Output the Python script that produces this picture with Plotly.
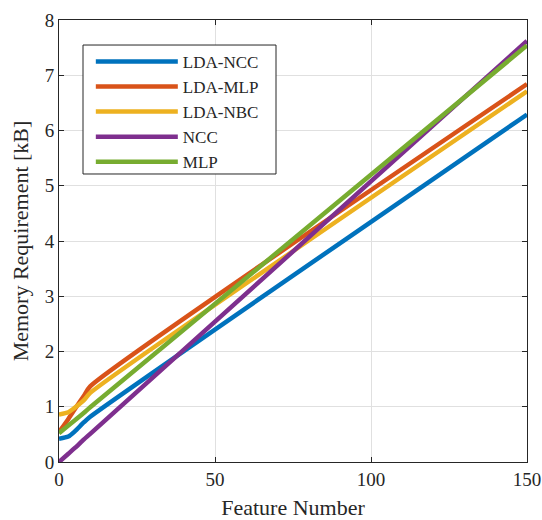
import plotly.graph_objects as go

feature = [0, 3, 5, 8, 10, 150]
lda_ncc = [0.42, 0.46, 0.55, 0.72, 0.82, 6.29]
lda_mlp = [0.54, 0.78, 0.95, 1.2, 1.37, 6.84]
lda_nbc = [0.86, 0.9, 0.98, 1.12, 1.25, 6.71]
ncc = [0.0, 0.15, 0.25, 0.41, 0.51, 7.62]
mlp = [0.52, 0.66, 0.75, 0.89, 0.99, 7.54]

series = [
    ("LDA-NCC", lda_ncc, "#0072BD"),
    ("LDA-MLP", lda_mlp, "#D95319"),
    ("LDA-NBC", lda_nbc, "#EDB120"),
    ("NCC", ncc, "#7E2F8E"),
    ("MLP", mlp, "#77AC30"),
]

FONT = "Liberation Serif"
INK = "#262626"

fig = go.Figure()
for name, vals, col in series:
    fig.add_trace(go.Scatter(x=feature, y=vals, name=name, mode="lines",
                             line=dict(color=col, width=4.5, shape="spline", smoothing=0.6)))

axis_common = dict(showline=True, linecolor=INK, linewidth=1, mirror="ticks",
                   ticks="inside", ticklen=5, tickcolor=INK, automargin=False,
                   showgrid=True, gridcolor="#e0e0e0", gridwidth=1, zeroline=False,
                   tickfont=dict(family=FONT, size=19, color=INK))

fig.update_xaxes(range=[0, 150], tickvals=[0, 50, 100, 150],
                 title=dict(text="Feature Number", font=dict(family=FONT, size=22, color=INK), standoff=16),
                 **axis_common)
fig.update_yaxes(range=[0, 8], dtick=1,
                 title=dict(text="Memory Requirement [kB]", font=dict(family=FONT, size=22, color=INK), standoff=10),
                 **axis_common)

# legend frame (paper-space box behind the legend entries)
fig.add_shape(type="rect", xref="paper", yref="paper",
              x0=0.0513, x1=0.4637, y0=0.6516, y1=0.9434,
              line=dict(color=INK, width=1), fillcolor="white", layer="above")

fig.update_layout(
    width=542, height=520,
    margin=dict(l=59, r=15, t=20, b=58),
    plot_bgcolor="white", paper_bgcolor="white",
    legend=dict(x=0.068, y=0.946, xanchor="left", yanchor="top",
                bgcolor="rgba(0,0,0,0)", borderwidth=0,
                font=dict(family=FONT, size=17, color=INK),
                itemwidth=82, tracegroupgap=0),
    showlegend=True,
)

fig.write_html("out.html", config={"displayModeBar": False},
               post_script="document.body.style.margin='0';document.body.style.overflow='hidden';")
